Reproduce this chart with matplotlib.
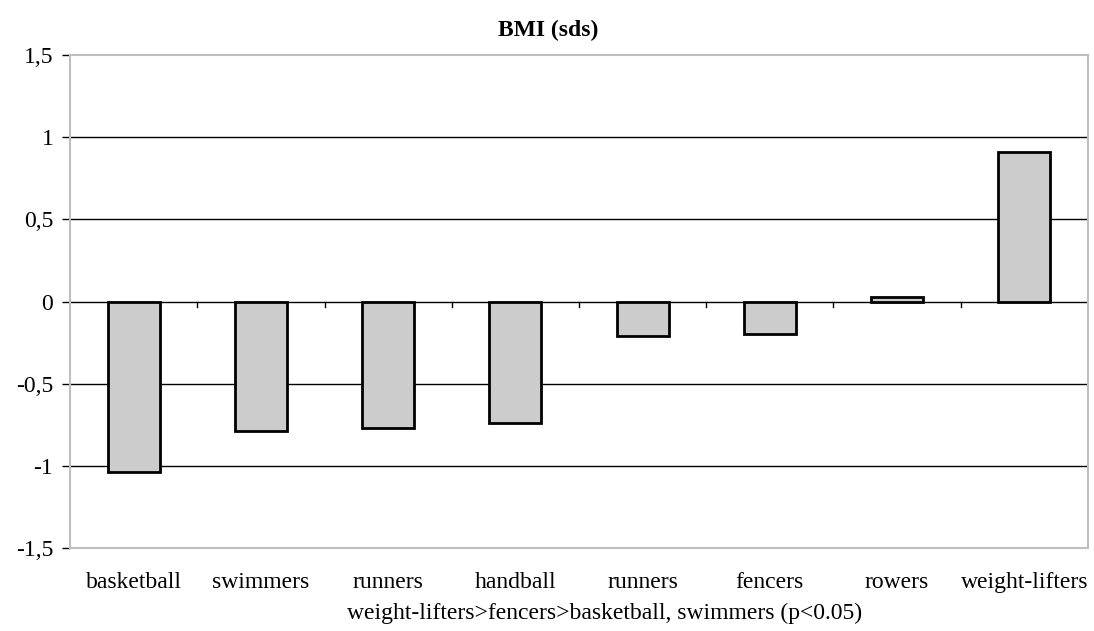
import matplotlib.pyplot as plt
import numpy as np

categories = ["basketball", "swimmers", "runners", "handball", "runners",
              "fencers", "rowers", "weight-lifters"]
bmi_sds = [-1.04, -0.79, -0.77, -0.74, -0.21, -0.20, 0.03, 0.91]
y_ticks = [-1.5, -1, -0.5, 0, 0.5, 1, 1.5]
y_labels = ["-1,5", "-1", "-0,5", "0", "0,5", "1", "1,5"]

plt.rcParams["font.family"] = ["Liberation Serif", "DejaVu Serif"]

fig = plt.figure(figsize=(10.94, 6.31), dpi=100)
ax = fig.add_axes([0.064, 0.1315, 0.9305, 0.7813])

x = np.arange(len(categories))
ax.bar(x, bmi_sds, width=0.41, color="#cccccc", edgecolor="black",
       linewidth=2, zorder=3)

ax.set_xlim(-0.5, len(categories) - 0.5)
ax.set_ylim(-1.5, 1.5)

# gridlines
for yv in y_ticks[1:-1]:
    ax.axhline(yv, color="black", linewidth=1, zorder=1)

# category boundary ticks on the zero line
for b in x[:-1] + 0.5:
    ax.plot([b, b], [0, -0.036], color="black", linewidth=1, zorder=2)

ax.set_yticks(y_ticks)
ax.set_yticklabels(y_labels, fontsize=17)
ax.tick_params(axis="y", length=6, width=1, color="black", pad=6)

ax.set_xticks(x)
ax.set_xticklabels(categories, fontsize=17)
ax.tick_params(axis="x", length=0, pad=17)

for s in ax.spines.values():
    s.set_color("#bfbfbf")
    s.set_linewidth(1.5)

ax.set_title("BMI (sds)", fontsize=17, fontweight="bold", x=0.47, pad=14)
ax.set_xlabel("weight-lifters>fencers>basketball, swimmers (p<0.05)",
              fontsize=17)
ax.xaxis.set_label_coords(0.525, -0.112)

fig.savefig("out.png", dpi=100)
